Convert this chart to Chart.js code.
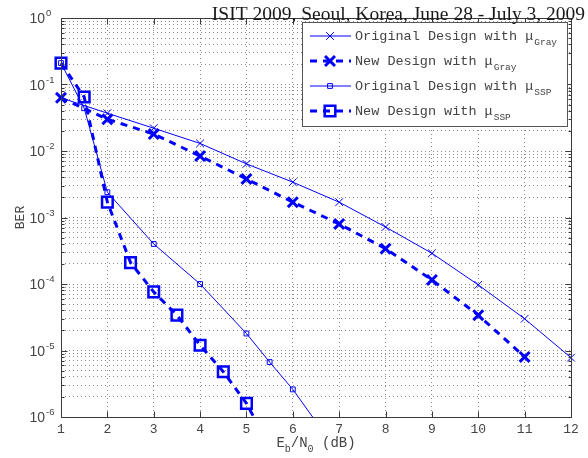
<!DOCTYPE html>
<html>
<head>
<meta charset="utf-8">
<script src="https://cdn.jsdelivr.net/npm/chart.js@4/dist/chart.umd.min.js"></script>
<style>
  body { margin: 0; background: #fff; }
  #wrap { width: 588px; height: 458px; }
</style>
</head>
<body>
<div id="wrap"><canvas id="berChart" width="588" height="458"></canvas></div>
<script>
// Eb/N0 (dB) sample points and measured BER for every curve
const snrOrigGray = [1, 2, 3, 4, 5, 6, 7, 8, 9, 10, 11, 12];
const berOrigGray = [0.063, 0.037, 0.022, 0.013, 0.0064, 0.0034, 0.0017, 0.00072, 0.00029, 0.000097, 0.00003, 0.0000078];

const snrNewGray = [1, 2, 3, 4, 5, 6, 7, 8, 9, 10, 11];
const berNewGray = [0.063, 0.030, 0.018, 0.0084, 0.0038, 0.0017, 0.0008, 0.00034, 0.000115, 0.000034, 0.000008];

const snrOrigSsp = [1, 1.5, 2, 3, 4, 5, 5.5, 6, 6.5];
const berOrigSsp = [0.21, 0.044, 0.0024, 0.0004, 0.0001, 0.000018, 0.0000067, 0.0000026, 0.00000085];

const snrNewSsp = [1, 1.5, 2, 2.5, 3, 3.5, 4, 4.5, 5, 5.5];
const berNewSsp = [0.21, 0.065, 0.0017, 0.00021, 0.000076, 0.000034, 0.000012, 0.0000048, 0.0000016, 0.00000036];

const legendNames = ['Original Design with \u03bc', 'New Design with \u03bc', 'Original Design with \u03bc', 'New Design with \u03bc'];
const legendSubs = ['Gray', 'Gray', 'SSP', 'SSP'];

const xTickValues = [1, 2, 3, 4, 5, 6, 7, 8, 9, 10, 11, 12];
const yDecades = [-6, -5, -4, -3, -2, -1, 0];

const titleText = 'ISIT 2009, Seoul, Korea, June 28 - July 3, 2009';

const blue = '#0000ff';
const clipBox = { left: 12, top: 12, right: 12, bottom: 0 };

function toPoints(xs, ys) {
    return xs.map((x, i) => ({ x: x, y: ys[i] }));
}

function isDecade(v) {
    const l = Math.log10(v);
    return Math.abs(l - Math.round(l)) < 1e-9;
}

// marker drawing for the legend samples (same shapes as the point styles)
function drawMarker(ctx, style, r, lw, cx, cy) {
    ctx.save();
    ctx.setLineDash([]);
    ctx.strokeStyle = blue;
    ctx.lineWidth = lw;
    ctx.beginPath();
    if (style === 'rect') {
        const s = r * Math.SQRT1_2;
        ctx.rect(cx - s, cy - s, 2 * s, 2 * s);
    } else {
        const o = r * Math.SQRT1_2;
        ctx.moveTo(cx - o, cy - o); ctx.lineTo(cx + o, cy + o);
        ctx.moveTo(cx - o, cy + o); ctx.lineTo(cx + o, cy - o);
    }
    ctx.stroke();
    ctx.restore();
}

const decorations = {
    id: 'decorations',
    afterDraw(chart) {
        const { ctx, chartArea: a, scales: { x, y } } = chart;
        ctx.save();

        // axes box
        const L = Math.round(a.left) + 0.5, R = Math.round(a.right) + 0.5;
        const T = Math.round(a.top) + 0.5, B = Math.round(a.bottom) + 0.5;
        ctx.strokeStyle = '#3a3a3a';
        ctx.lineWidth = 1;
        ctx.setLineDash([]);
        ctx.strokeRect(L, T, R - L, B - T);

        // inward tick marks
        ctx.beginPath();
        y.ticks.forEach(t => {
            const py = Math.round(y.getPixelForValue(t.value)) + 0.5;
            const len = isDecade(t.value) ? 6 : 3;
            ctx.moveTo(L, py); ctx.lineTo(L + len, py);
            ctx.moveTo(R, py); ctx.lineTo(R - len, py);
        });
        x.ticks.forEach(t => {
            const px = Math.round(x.getPixelForValue(t.value)) + 0.5;
            ctx.moveTo(px, B); ctx.lineTo(px, B - 6);
            ctx.moveTo(px, T); ctx.lineTo(px, T + 6);
        });
        ctx.stroke();

        // y tick labels: 10 with superscript exponent
        ctx.fillStyle = '#444';
        ctx.textBaseline = 'alphabetic';
        yDecades.forEach(e => {
            const py = y.getPixelForValue(Math.pow(10, e));
            ctx.font = '14px "Liberation Sans", Arial, sans-serif';
            ctx.textAlign = 'right';
            ctx.fillText('10', 45, py + 5);
            ctx.font = '9.5px "Liberation Sans", Arial, sans-serif';
            ctx.textAlign = 'left';
            ctx.fillText(e === 0 ? '0' : '-' + Math.abs(e), 46, py - 2);
        });

        // x tick labels
        const mono = '"Liberation Mono", "Courier New", monospace';
        ctx.font = '13px ' + mono;
        ctx.textAlign = 'center';
        xTickValues.forEach(v => {
            ctx.fillText(String(v), x.getPixelForValue(v), 433);
        });

        // x axis title: Eb/N0 (dB)
        const parts = [['E', 0], ['b', 1], ['/N', 0], ['0', 1], [' (dB)', 0]];
        let total = 0;
        parts.forEach(p => {
            ctx.font = (p[1] ? '10px ' : '14px ') + mono;
            total += ctx.measureText(p[0]).width;
        });
        let cx = (a.left + a.right) / 2 - total / 2;
        ctx.textAlign = 'left';
        parts.forEach(p => {
            ctx.font = (p[1] ? '10px ' : '14px ') + mono;
            ctx.fillText(p[0], cx, p[1] ? 452 : 447);
            cx += ctx.measureText(p[0]).width;
        });

        // y axis title
        ctx.save();
        ctx.translate(24, (a.top + a.bottom) / 2);
        ctx.rotate(-Math.PI / 2);
        ctx.font = '13px ' + mono;
        ctx.textAlign = 'center';
        ctx.fillText('BER', 0, 0);
        ctx.restore();

        // legend
        const lx = 302.5, ly = 22.5, lw = 265, lh = 104;
        ctx.fillStyle = '#fff';
        ctx.fillRect(lx, ly, lw, lh);
        ctx.strokeStyle = '#555';
        ctx.lineWidth = 1;
        ctx.strokeRect(lx, ly, lw, lh);
        chart.data.datasets.forEach((ds, i) => {
            const ry = 36 + i * 25;
            ctx.save();
            ctx.strokeStyle = ds.borderColor;
            ctx.lineWidth = ds.borderWidth;
            ctx.setLineDash(ds.borderDash || []);
            ctx.beginPath();
            ctx.moveTo(310, ry); ctx.lineTo(351, ry);
            ctx.stroke();
            ctx.restore();
            drawMarker(ctx, ds.pointStyle, ds.pointRadius, ds.pointBorderWidth, 330, ry);

            ctx.fillStyle = '#444';
            ctx.textAlign = 'left';
            ctx.font = '13.5px ' + mono;
            ctx.fillText(legendNames[i], 355, ry + 4);
            const w = ctx.measureText(legendNames[i]).width;
            ctx.font = '9.5px ' + mono;
            ctx.fillText(legendSubs[i], 355 + w + 1, ry + 9);
        });

        // conference header across the top
        ctx.fillStyle = '#1a1a1a';
        ctx.font = '19.5px "Liberation Serif", "Times New Roman", serif';
        ctx.textAlign = 'right';
        ctx.fillText(titleText, 585, 20);

        ctx.restore();
    }
};

const ctx = document.getElementById('berChart').getContext('2d');
new Chart(ctx, {
    type: 'line',
    data: {
        datasets: [
            {
                label: legendNames[0] + legendSubs[0],
                data: toPoints(snrOrigGray, berOrigGray),
                borderColor: blue,
                borderWidth: 1,
                pointStyle: 'crossRot',
                pointRadius: 5.5,
                pointBorderWidth: 1,
                pointBorderColor: blue,
                pointBackgroundColor: 'transparent',
                clip: clipBox
            },
            {
                label: legendNames[1] + legendSubs[1],
                data: toPoints(snrNewGray, berNewGray),
                borderColor: blue,
                borderWidth: 3,
                borderDash: [7, 6],
                pointStyle: 'crossRot',
                pointRadius: 7,
                pointBorderWidth: 3,
                pointBorderColor: blue,
                pointBackgroundColor: 'transparent',
                clip: clipBox
            },
            {
                label: legendNames[2] + legendSubs[2],
                data: toPoints(snrOrigSsp, berOrigSsp),
                borderColor: blue,
                borderWidth: 1,
                pointStyle: 'rect',
                pointRadius: 3.4,
                pointBorderWidth: 1,
                pointBorderColor: blue,
                pointBackgroundColor: 'transparent',
                clip: clipBox
            },
            {
                label: legendNames[3] + legendSubs[3],
                data: toPoints(snrNewSsp, berNewSsp),
                borderColor: blue,
                borderWidth: 3,
                borderDash: [7, 6],
                pointStyle: 'rect',
                pointRadius: 7.5,
                pointBorderWidth: 2.5,
                pointBorderColor: blue,
                pointBackgroundColor: 'transparent',
                clip: clipBox
            }
        ]
    },
    options: {
        responsive: false,
        animation: false,
        layout: { padding: { left: 0, top: 18, right: 17, bottom: 0 } },
        plugins: {
            legend: { display: false },
            tooltip: { enabled: false }
        },
        elements: { line: { tension: 0 } },
        scales: {
            x: {
                type: 'linear',
                min: 1,
                max: 12,
                afterBuildTicks: s => { s.ticks = xTickValues.map(v => ({ value: v })); },
                afterFit: s => { s.height = 41; },
                ticks: { display: false },
                grid: { color: '#8c8c8c', lineWidth: 1, drawTicks: false },
                border: { display: false, dash: [1, 3] }
            },
            y: {
                type: 'logarithmic',
                min: 1e-6,
                max: 1,
                afterBuildTicks: s => {
                    const t = [];
                    yDecades.forEach(e => {
                        for (let m = 1; m <= 9; m++) {
                            if (e === 0 && m > 1) break;
                            t.push({ value: m * Math.pow(10, e), major: m === 1 });
                        }
                    });
                    s.ticks = t;
                },
                afterFit: s => { s.width = 61; },
                ticks: { display: false },
                grid: { color: '#8c8c8c', lineWidth: 1, drawTicks: false },
                border: { display: false, dash: [1, 3] }
            }
        }
    },
    plugins: [decorations]
});
</script>
</body>
</html>
